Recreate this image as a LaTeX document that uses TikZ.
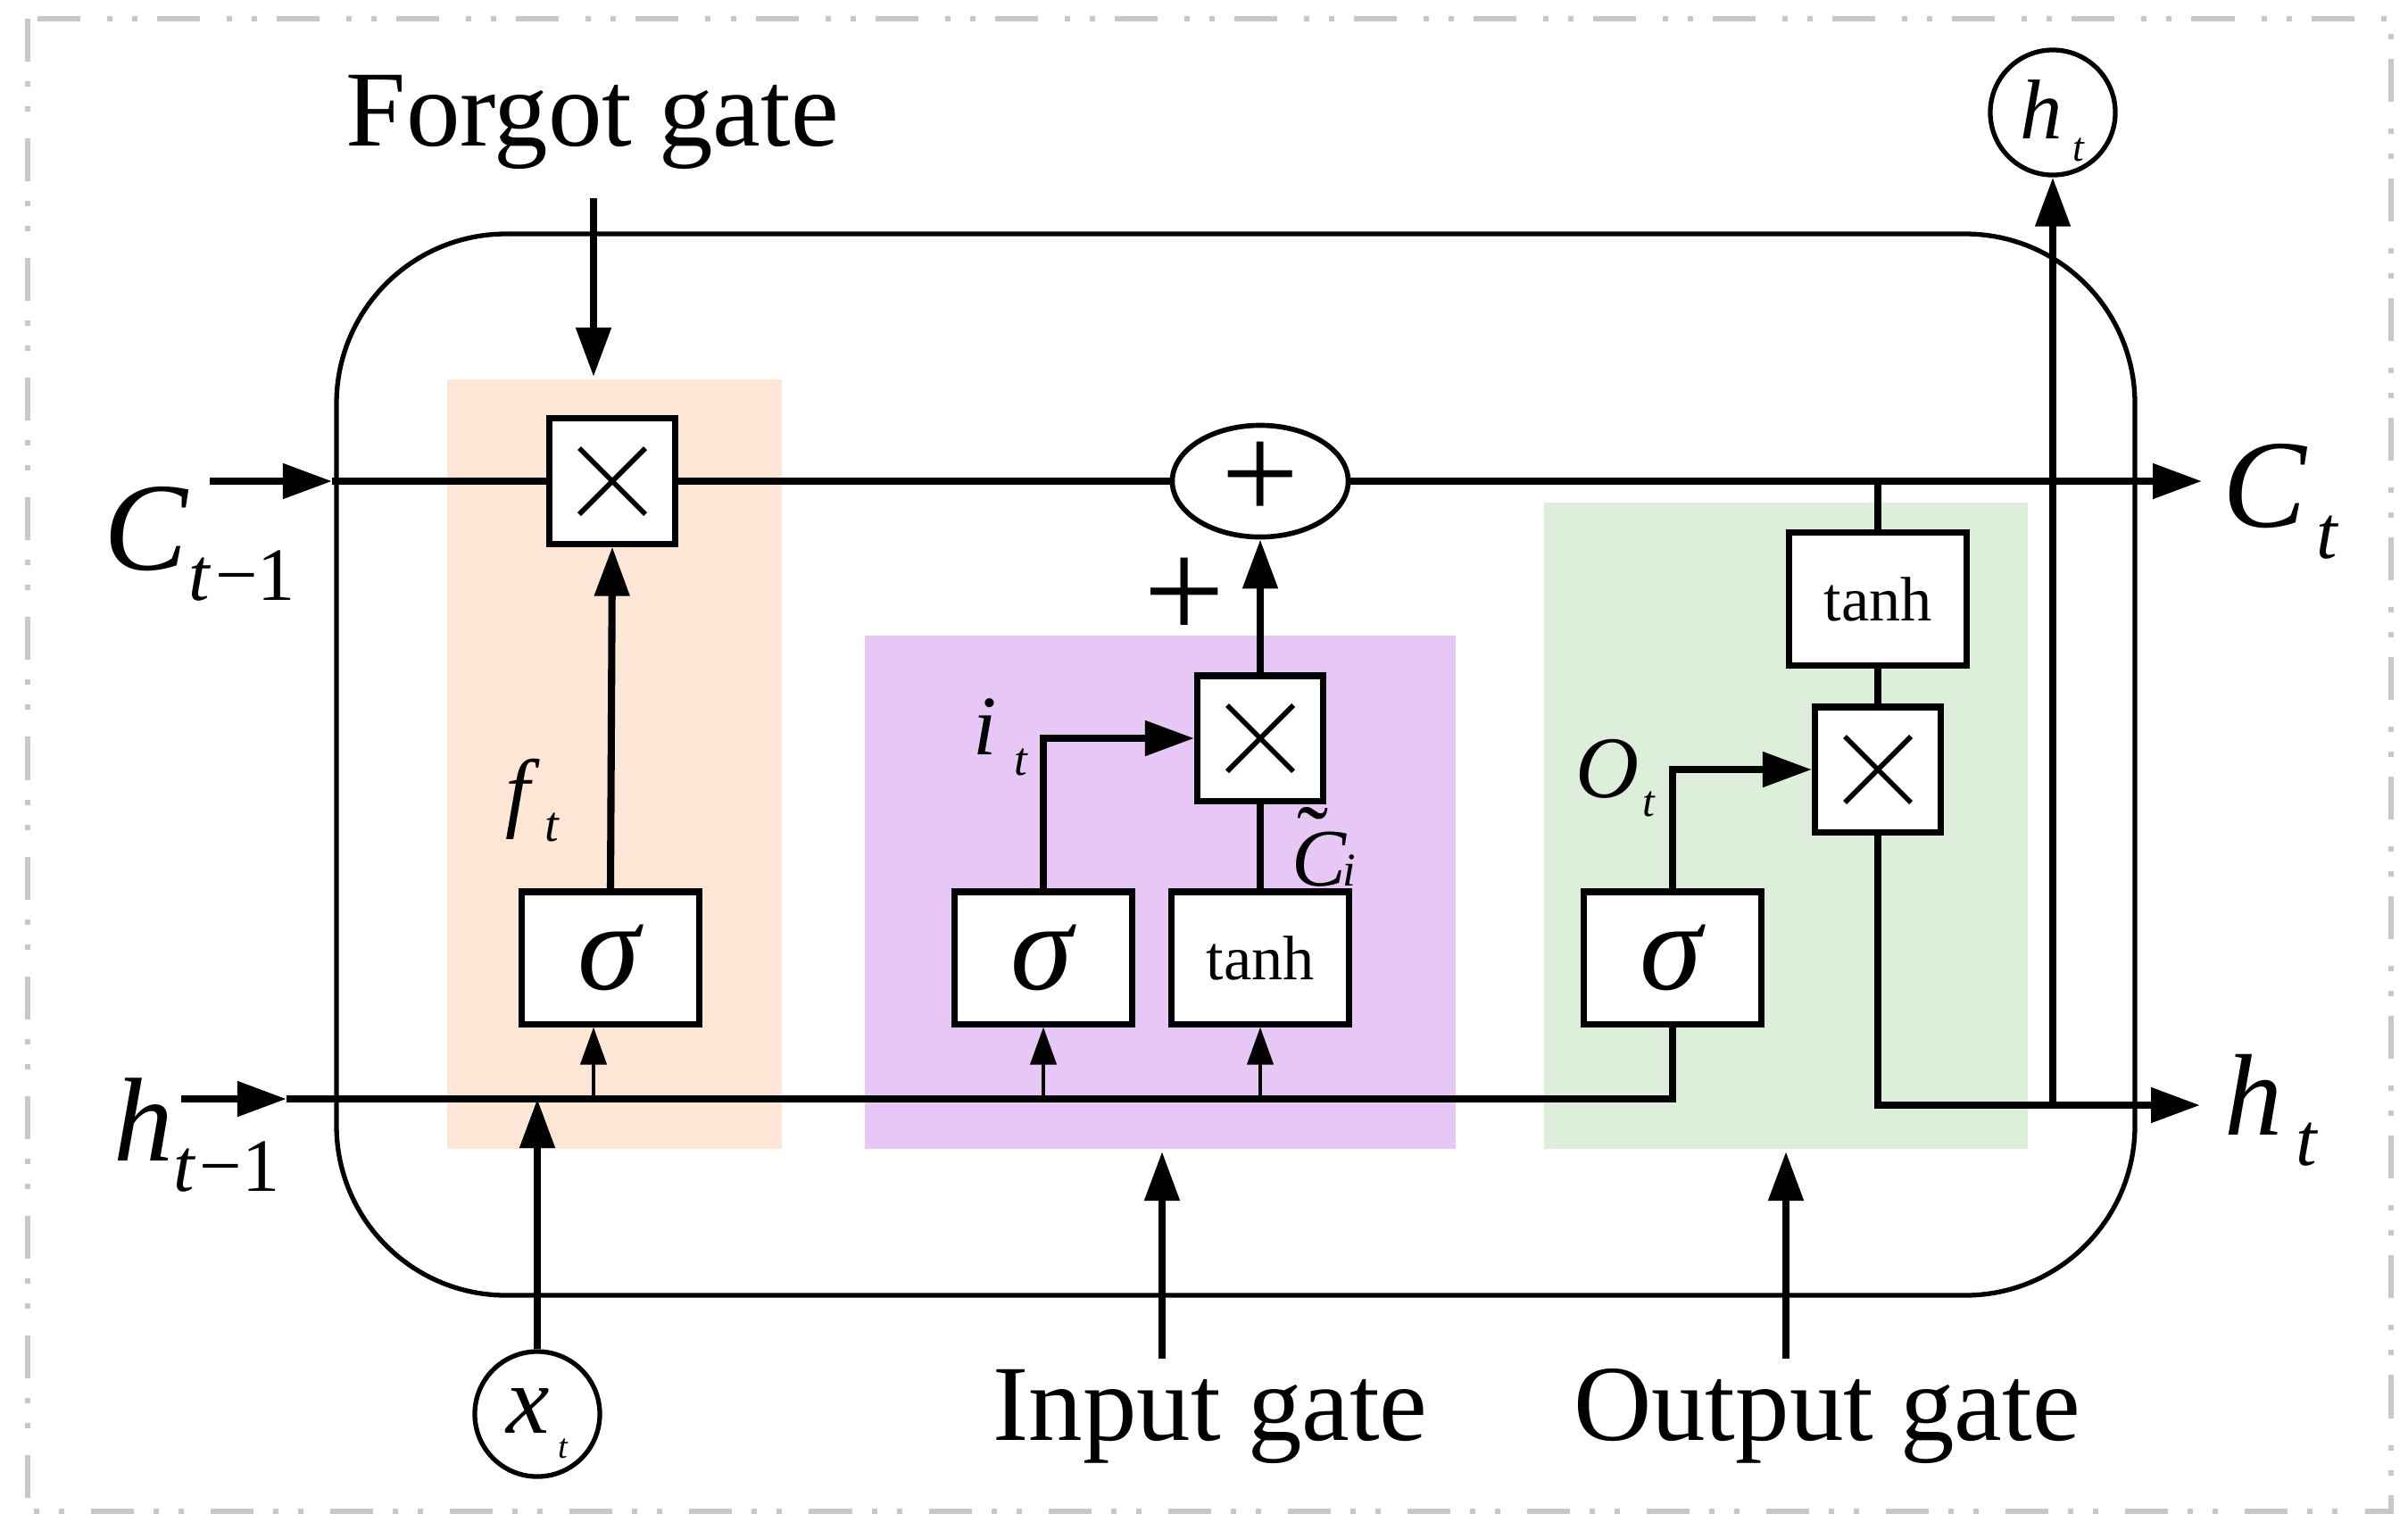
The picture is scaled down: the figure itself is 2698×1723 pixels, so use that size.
\documentclass[tikz,border=0pt]{standalone}
\usepackage{fontspec}
\setmainfont{Liberation Serif}
\usetikzlibrary{arrows.meta,shapes.geometric,calc}
\definecolor{forgetfill}{RGB}{253,230,214}
\definecolor{inputfill}{RGB}{231,199,246}
\definecolor{outputfill}{RGB}{221,238,218}
\definecolor{framegray}{RGB}{200,200,200}
\newcommand{\fsz}[1]{\fontsize{#1}{#1}\selectfont}
\begin{document}
\begin{tikzpicture}[x=0.01cm,y=-0.01cm,
  sigline/.style={line width=2.3pt},
  thinline/.style={line width=1.2pt},
  bigtip/.style={-{Triangle[length=0.55cm,width=0.38cm]}},
  smalltip/.style={-{Triangle[length=0.42cm,width=0.29cm]}},
  opbox/.style={draw, fill=white, line width=2pt, inner sep=0pt},
  actbox/.style={opbox, minimum width=1.98cm, minimum height=1.48cm},
  mulbox/.style={opbox, minimum width=1.41cm, minimum height=1.40cm},
  lbl/.style={inner sep=0pt, anchor=base west},
  gatelbl/.style={inner sep=0pt, anchor=base, font=\fsz{34.4}},
  iocircle/.style={circle, draw, line width=1.5pt, fill=white, minimum size=1.4cm, inner sep=0pt},
  crossline/.style={line width=1.6pt},
]
\useasboundingbox (0,0) rectangle (2698,1723);
\fill[white] (0,0) rectangle (2698,1723);
% outer dashed frame
\draw[framegray, line width=1.6pt, dash pattern=on 0.48cm off 0.22cm on 0.06cm off 0.22cm on 0.06cm off 0.30cm]
  (31,21) rectangle (2679,1693);
% gate backgrounds
\fill[forgetfill] (501,425) rectangle (876,1287);
\fill[inputfill] (969,712) rectangle (1631,1287);
\fill[outputfill] (1730,563) rectangle (2272,1287);
% cell
\draw[line width=1.5pt, rounded corners=1.9cm] (377,262) rectangle (2392,1451);

% operation nodes
\node[mulbox] (fmul) at (686,539) {};
\node[actbox] (fsig) at (684,1073) {\fsz{40}\textit{σ}};
\node[actbox] (isig) at (1169,1073) {\fsz{40}\textit{σ}};
\node[actbox] (itanh) at (1412,1073) {\fsz{20}tanh};
\node[mulbox] (imul) at (1412,827) {};
\node[ellipse, draw, line width=1.6pt, fill=white, minimum width=1.97cm, minimum height=1.25cm, inner sep=0pt] (plus) at (1412,539) {\fsz{44}+};
\node[actbox] (osig) at (1874,1073) {\fsz{40}\textit{σ}};
\node[mulbox] (omul) at (2104,862) {};
\node[actbox] (otanh) at (2104,671) {\fsz{20}tanh};
\foreach \m in {fmul,imul,omul} {
  \draw[crossline] ([shift={(-37,-37)}]\m.center) -- ([shift={(37,37)}]\m.center);
  \draw[crossline] ([shift={(-37,37)}]\m.center) -- ([shift={(37,-37)}]\m.center);
}

% input / output circles
\node[iocircle, text height=0.78cm, text depth=0.2cm] (ht) at (2300,126)
  {\fsz{27}\textit{h}\hspace{0.12cm}\raisebox{-0.25cm}{\fsz{13}\textit{t}}};
\node[iocircle, text height=0.62cm, text depth=0.2cm] (xt) at (602,1584)
  {\fsz{31}\textit{x}\hspace{0.1cm}\raisebox{-0.28cm}{\fsz{11}\textit{t}}};

% labels
\node[lbl] (cprev) at (116,638) {\fsz{40}\textit{C}\raisebox{-0.34cm}{\fsz{24}\textit{t}\kern0.05em−1}};
\node[lbl] (hprev) at (127,1300) {\fsz{38}\textit{h}\raisebox{-0.34cm}{\fsz{24}\textit{t}\kern0.05em−1}};
\node[lbl] (ctlbl) at (2490,590) {\fsz{40}\textit{C}\hspace{0.1cm}\raisebox{-0.35cm}{\fsz{24}\textit{t}}};
\node[lbl] (htlbl) at (2492,1271) {\fsz{37}\textit{h}\hspace{0.15cm}\raisebox{-0.34cm}{\fsz{24}\textit{t}}};
\node[lbl] (ftlbl) at (566,919) {\fsz{28}\textit{f}\hspace{0.05cm}\raisebox{-0.23cm}{\fsz{16}\textit{t}}};
\node[lbl] (itlbl) at (1090,845) {\fsz{27}\textit{i}\hspace{0.19cm}\raisebox{-0.23cm}{\fsz{15}\textit{t}}};
\node[lbl] (otlbl) at (1765,893) {\fsz{28}\textit{O}\hspace{0.04cm}\raisebox{-0.21cm}{\fsz{14}\textit{t}}};
\node[lbl] (cilbl) at (1447,992) {\fsz{26}\rlap{\kern0.06cm\raisebox{0.17cm}{\fsz{30}˜}}\textit{C}\kern-0.05em{\fsz{15}\textit{i}}};
\node[inner sep=0pt] (plusl) at (1327,671) {\fsz{46}+};

\node[gatelbl] (fg) at (664,163) {Forgot gate};
\node[gatelbl] (ig) at (1356,1613) {Input gate};
\node[gatelbl] (og) at (2047,1613) {Output gate};

% helper coordinates
\coordinate (fgtop) at (665,222);
\coordinate (fgtip) at (665,422);
\coordinate (igbot) at (1302,1522);
\coordinate (igtip) at (1302,1290);
\coordinate (ogbot) at (2001,1522);
\coordinate (ogtip) at (2001,1290);
\coordinate (cin) at (235,539);
\coordinate (cinend) at (372,539);
\coordinate (cout) at (2467,539);
\coordinate (hin) at (203,1231);
\coordinate (hinend) at (321,1231);
\coordinate (hout) at (2465,1238);
\coordinate (htbranch) at (2300,1238);
\coordinate (otanhtap) at (2104,539);

% cell state line
\draw[sigline, bigtip] (cin) -- (cinend);
\draw[sigline] (cinend) -- (fmul.west);
\draw[sigline] (fmul.east) -- (plus.west);
\draw[sigline, bigtip] (plus.east) -- (cout);

% hidden state input line
\draw[sigline, bigtip] (hin) -- (hinend);
\draw[sigline] (hinend) -| (osig.south);

% branches from h line
\draw[thinline, smalltip] (hinend -| fgtop) -- (fsig.south -| fgtop);
\draw[thinline, smalltip] (hinend -| isig.south) -- (isig.south);
\draw[thinline, smalltip] (hinend -| itanh.south) -- (itanh.south);

% x_t input
\draw[sigline, bigtip] (xt.north) -- (xt.north |- hinend);

% forget gate
\draw[sigline, bigtip] (fgtop) -- (fgtip);
\draw[sigline, bigtip] (fsig.north) -- (fmul.south);

% input gate
\draw[sigline, bigtip] (isig.north) |- (imul.west);
\draw[sigline] (itanh.north) -- (imul.south);
\draw[sigline, bigtip] (imul.north) -- (plus.south);
\draw[sigline, bigtip] (igbot) -- (igtip);

% output gate
\draw[sigline, bigtip] (osig.north) |- (omul.west);
\draw[sigline] (otanhtap) -- (otanh.north);
\draw[sigline] (otanh.south) -- (omul.north);
\draw[sigline, bigtip] (omul.south) |- (hout);
\draw[sigline, bigtip] (htbranch) -- (ht.south);
\draw[sigline, bigtip] (ogbot) -- (ogtip);
\end{tikzpicture}
\end{document}
